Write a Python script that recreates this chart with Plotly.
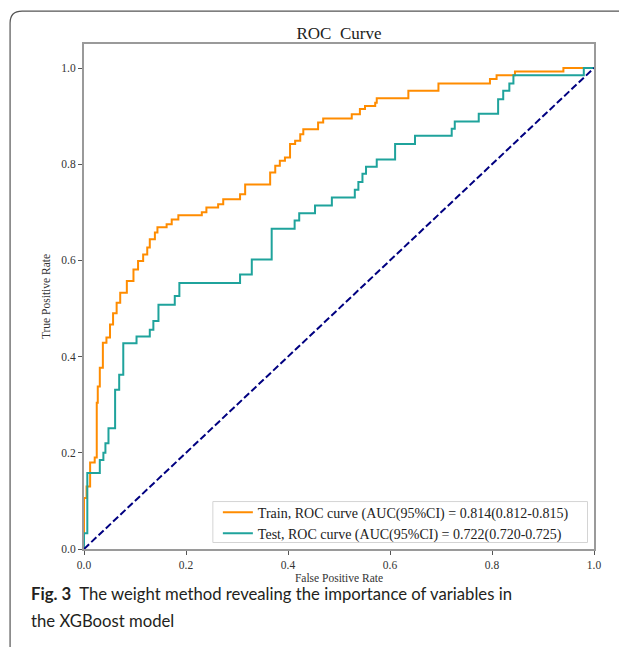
import plotly.graph_objects as go

# ROC step points (fpr at each rise, tpr reached) - drawn with 'hv' steps
train_fpr = [0, 0, 0.005, 0.012, 0.021, 0.025, 0.027, 0.031, 0.037, 0.044, 0.051, 0.057, 0.064,
             0.071, 0.084, 0.097, 0.106, 0.116, 0.124, 0.129, 0.139, 0.144, 0.162, 0.172, 0.185,
             0.231, 0.240, 0.263, 0.273, 0.306, 0.316, 0.365, 0.375, 0.384, 0.394, 0.404, 0.414,
             0.424, 0.430, 0.459, 0.469, 0.525, 0.541, 0.551, 0.571, 0.574, 0.636, 0.695, 0.796,
             0.809, 0.845, 0.940, 1.0]
train_tpr = [0, 0.106, 0.13, 0.18, 0.19, 0.304, 0.338, 0.377, 0.429, 0.44, 0.467, 0.49, 0.512,
             0.533, 0.557, 0.581, 0.599, 0.6125, 0.627, 0.644, 0.658, 0.669, 0.675, 0.685, 0.694,
             0.700, 0.710, 0.717, 0.727, 0.7375, 0.758, 0.783, 0.797, 0.807, 0.814, 0.842, 0.849,
             0.8625, 0.873, 0.887, 0.895, 0.904, 0.915, 0.921, 0.928, 0.937, 0.953, 0.968, 0.977,
             0.985, 0.993, 1.0, 1.0]

test_fpr = [0, 0, 0.0065, 0.031, 0.038, 0.042, 0.048, 0.061, 0.069, 0.077, 0.103, 0.129, 0.136,
            0.146, 0.178, 0.187, 0.306, 0.329, 0.368, 0.413, 0.422, 0.453, 0.486, 0.531, 0.538,
            0.546, 0.553, 0.574, 0.610, 0.649, 0.721, 0.727, 0.774, 0.812, 0.822, 0.834, 0.842,
            0.980, 1.0]
test_tpr = [0, 0.033, 0.158, 0.185, 0.2, 0.22, 0.251, 0.331, 0.3625, 0.428, 0.442, 0.456, 0.474,
            0.508, 0.526, 0.553, 0.571, 0.602, 0.666, 0.683, 0.698, 0.714, 0.731, 0.747, 0.763,
            0.780, 0.795, 0.810, 0.842, 0.859, 0.874, 0.889, 0.905, 0.935, 0.953, 0.968, 0.985,
            1.0, 1.0]

chance_x = [0, 1]
chance_y = [0, 1]

train_label = "Train, ROC curve (AUC(95%CI) = 0.814(0.812-0.815)"
test_label = "Test, ROC curve (AUC(95%CI) = 0.722(0.720-0.725)"
tick_vals = [0.0, 0.2, 0.4, 0.6, 0.8, 1.0]
tick_text = ["0.0", "0.2", "0.4", "0.6", "0.8", "1.0"]

SERIF = "Liberation Serif, Times New Roman, serif"

# the page body has an 8px default margin, so the figure is sized 8px smaller
W, H = 619, 639

def px_x(p):  # page pixel -> paper x
    return (p - 84) / 510.5

def px_y(p):  # page pixel -> paper y
    return (549.5 - p) / 505.5

fig = go.Figure()
fig.add_trace(go.Scatter(x=train_fpr, y=train_tpr, mode="lines", line_shape="hv",
                         line=dict(color="#FF8C00", width=2), name=train_label))
fig.add_trace(go.Scatter(x=test_fpr, y=test_tpr, mode="lines", line_shape="hv",
                         line=dict(color="#1FA39C", width=2), name=test_label))
fig.add_trace(go.Scatter(x=chance_x, y=chance_y, mode="lines",
                         line=dict(color="#000080", width=2, dash="7px,3px"), showlegend=False))

axis_common = dict(showgrid=False, zeroline=False, showline=True, mirror=True,
                   linecolor="#9a9a9a", linewidth=2, ticks="outside", ticklen=4,
                   tickcolor="#555", tickwidth=1,
                   tickfont=dict(family=SERIF, size=11.5, color="#333"),
                   tickvals=tick_vals, ticktext=tick_text)

fig.update_layout(
    width=W, height=H,
    margin=dict(l=76, r=33, t=36, b=98),
    paper_bgcolor="white", plot_bgcolor="white",
    title=dict(text="ROC\u00a0\u00a0Curve", x=0.5, xref="paper", xanchor="center",
               y=1 - 25 / H, yanchor="middle",
               font=dict(family=SERIF, size=17, color="#222")),
    xaxis=dict(range=[0, 1.0], **axis_common,
               title=dict(text="False Positive Rate", standoff=4,
                          font=dict(family=SERIF, size=11.5, color="#333"))),
    yaxis=dict(range=[0, 1.05], **axis_common,
               title=dict(text="True Positive Rate", standoff=8,
                          font=dict(family=SERIF, size=11.5, color="#333"))),
    legend=dict(x=px_x(218), y=px_y(497), xanchor="left", yanchor="top",
                bgcolor="rgba(0,0,0,0)", borderwidth=0,
                font=dict(family=SERIF, size=14, color="#222"),
                itemwidth=30, tracegroupgap=0),
    showlegend=True,
)

# legend box
fig.add_shape(type="rect", xref="paper", yref="paper",
              x0=px_x(213), x1=px_x(588), y0=px_y(543), y1=px_y(502),
              line=dict(color="#d4d4d4", width=1), fillcolor="white", layer="above")

# figure frame (rounded top-left corner, as in the source page)
x_left = px_x(10)
x_right = px_x(640)
y_top = px_y(11)
y_bot = px_y(660)
rx = 12 / 510.5
ry = 12 / 505.5
fig.add_shape(type="path", xref="paper", yref="paper",
              path=f"M {x_left},{y_bot} L {x_left},{y_top - ry} Q {x_left},{y_top} {x_left + rx},{y_top} L {x_right},{y_top}",
              line=dict(color="#555", width=1.2))

cap_x = px_x(29)
CAP_FONT = dict(family="Lato, Open Sans, sans-serif", size=16.7, color="#231f20")
fig.add_annotation(xref="paper", yref="paper", x=cap_x, y=px_y(595),
                   xanchor="left", yanchor="middle", showarrow=False, align="left",
                   text="<b>Fig. 3</b>  The weight method revealing the importance of variables in",
                   font=CAP_FONT)
fig.add_annotation(xref="paper", yref="paper", x=cap_x, y=px_y(622),
                   xanchor="left", yanchor="middle", showarrow=False, align="left",
                   text="the XGBoost model", font=CAP_FONT)

fig.write_html("out.html")
